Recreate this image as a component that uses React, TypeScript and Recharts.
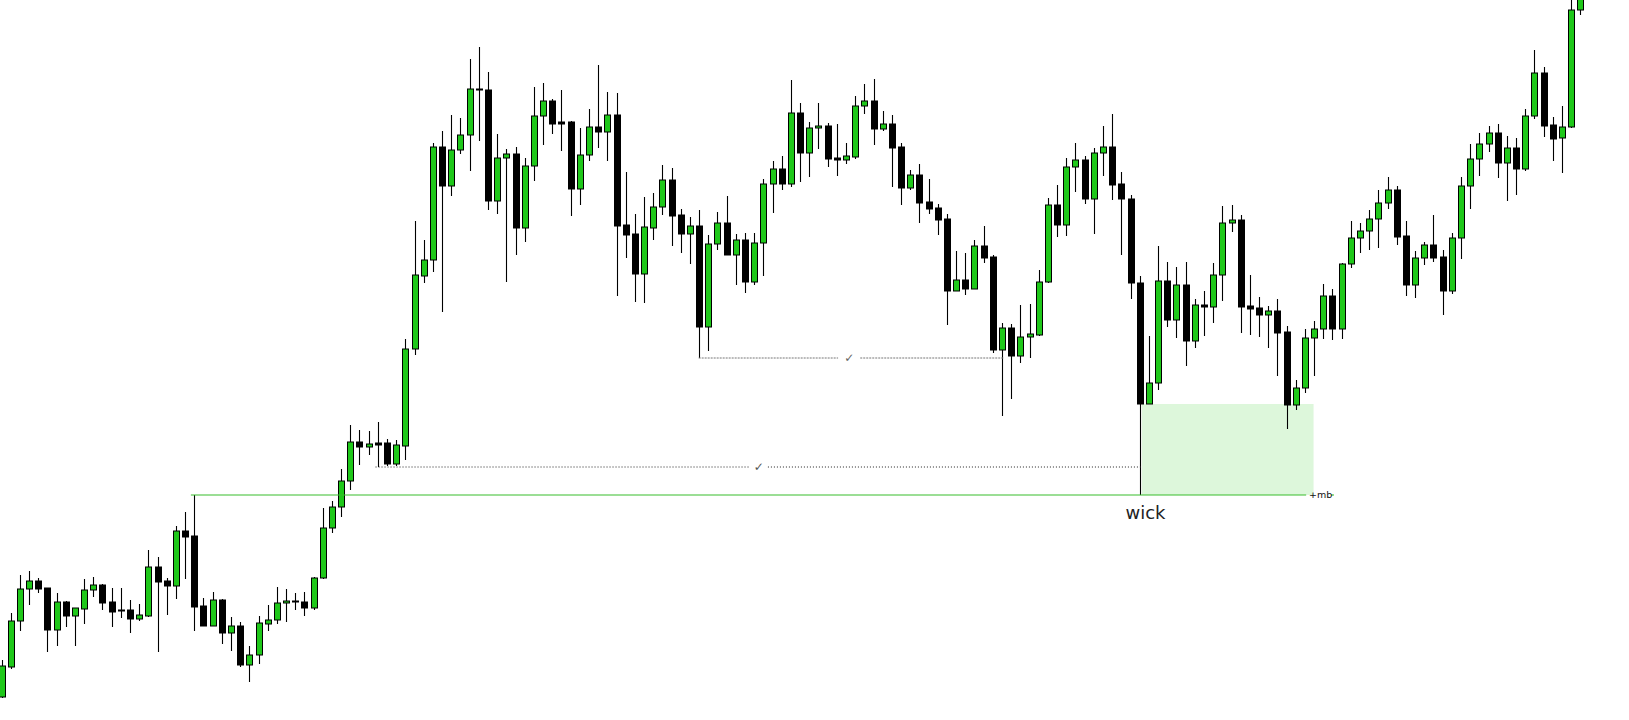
import {
  ComposedChart,
  Bar,
  XAxis,
  YAxis,
  ReferenceLine,
  ReferenceArea,
  ReferenceDot,
} from 'recharts';

// price levels (arbitrary units, higher = up)
const opens = [
  23, 53, 99, 131, 139, 132, 90, 118, 104, 111, 130, 135, 118, 110, 110, 101, 104, 153, 139, 134,
  189, 184, 114, 94, 120, 87, 94, 55, 65, 96, 100, 117, 119, 118, 112, 142, 192, 213, 239, 278,
  273, 277, 277, 256, 274, 371, 444, 460, 573, 534, 570, 585, 631, 630, 519, 562, 566, 492, 554, 604,
  619, 598, 598, 531, 565, 593, 588, 605, 495, 486, 446, 492, 513, 540, 505, 486, 494, 393, 476, 497,
  465, 480, 438, 477, 536, 551, 536, 607, 567, 592, 594, 562, 560, 563, 614, 619, 591, 596, 573, 532,
  545, 518, 512, 501, 429, 440, 431, 474, 463, 370, 392, 364, 383, 385, 438, 515, 495, 553, 560, 521,
  567, 573, 536, 521, 437, 316, 337, 439, 400, 435, 379, 415, 413, 445, 497, 500, 414, 412, 405, 409,
  388, 315, 332, 382, 391, 424, 391, 456, 482, 489, 501, 517, 530, 484, 435, 462, 475, 463, 429, 482,
  534, 561, 576, 587, 557, 572, 551, 604, 647, 595, 582, 593, 710,
];

const highs = [
  60, 107, 145, 149, 142, 132, 127, 119, 112, 141, 143, 136, 132, 132, 120, 116, 170, 163, 142, 194,
  208, 225, 122, 128, 121, 103, 98, 74, 104, 115, 133, 131, 127, 128, 143, 212, 219, 251, 295, 290,
  289, 298, 281, 280, 381, 499, 480, 577, 589, 605, 602, 661, 673, 648, 586, 571, 573, 562, 633, 637,
  621, 630, 599, 592, 611, 655, 628, 627, 548, 506, 523, 527, 555, 552, 511, 503, 510, 485, 508, 524,
  486, 487, 487, 541, 559, 564, 640, 617, 598, 617, 597, 596, 577, 624, 636, 641, 609, 605, 577, 550,
  556, 541, 516, 506, 469, 467, 480, 494, 465, 397, 396, 415, 416, 450, 522, 535, 562, 577, 564, 572,
  594, 606, 548, 525, 444, 384, 474, 458, 453, 458, 421, 429, 457, 514, 515, 505, 445, 423, 414, 421,
  394, 340, 391, 399, 436, 431, 457, 499, 497, 510, 530, 543, 534, 499, 469, 478, 505, 470, 487, 543,
  576, 587, 594, 596, 584, 582, 611, 670, 653, 603, 614, 725, 730,
];

const lows = [
  22, 51, 89, 115, 127, 68, 74, 93, 74, 96, 123, 110, 93, 102, 87, 99, 103, 68, 105, 121,
  141, 89, 94, 94, 76, 69, 53, 38, 56, 89, 96, 98, 110, 104, 110, 141, 187, 203, 230, 255,
  265, 253, 254, 254, 260, 365, 437, 448, 408, 524, 566, 549, 579, 510, 506, 438, 465, 478, 539, 575,
  586, 569, 504, 515, 559, 572, 559, 424, 462, 418, 417, 480, 505, 474, 467, 456, 362, 369, 470, 465,
  435, 427, 435, 444, 507, 530, 533, 538, 543, 571, 553, 544, 556, 561, 606, 575, 589, 533, 515, 530,
  497, 506, 485, 395, 429, 425, 431, 457, 367, 304, 321, 357, 362, 384, 437, 483, 484, 528, 516, 486,
  544, 520, 465, 421, 225, 316, 330, 393, 382, 354, 372, 384, 397, 419, 488, 387, 385, 383, 372, 344,
  291, 310, 327, 344, 381, 380, 381, 452, 467, 470, 472, 511, 475, 424, 422, 455, 458, 405, 426, 461,
  511, 544, 568, 542, 519, 525, 549, 601, 583, 559, 547, 592, 705,
];

const closes = [
  54, 99, 131, 139, 131, 90, 118, 104, 112, 130, 135, 117, 108, 109, 101, 105, 153, 138, 134, 189,
  183, 113, 94, 120, 87, 94, 55, 65, 97, 100, 117, 119, 118, 112, 142, 192, 213, 239, 278, 273,
  276, 275, 256, 275, 371, 445, 460, 573, 534, 570, 585, 631, 630, 519, 562, 566, 492, 554, 604, 619,
  596, 596, 531, 565, 593, 588, 605, 494, 485, 446, 493, 513, 540, 504, 486, 494, 393, 476, 497, 465,
  480, 438, 477, 536, 551, 536, 607, 567, 592, 594, 561, 560, 564, 614, 619, 591, 596, 572, 532, 545,
  517, 511, 500, 429, 440, 431, 474, 462, 370, 392, 364, 383, 386, 438, 515, 495, 553, 560, 521, 567,
  573, 535, 521, 437, 316, 337, 439, 400, 435, 379, 415, 413, 445, 497, 500, 413, 411, 405, 409, 387,
  315, 332, 382, 391, 424, 391, 456, 482, 489, 501, 517, 530, 483, 435, 462, 475, 462, 429, 482, 534,
  561, 576, 587, 557, 572, 551, 604, 647, 594, 581, 593, 710, 725,
];

// annotation anchors (candle indexes, 0-based)
const mbCandle = 21; // high that the green +mb line starts from
const wickCandle = 124; // candle whose wick sweeps the +mb line
const zoneEnd = 142.6;
const upperSweepFrom = 76;
const upperSweepTo = 109;
const lowerSweepFrom = 41;
const lowerSweepTo = 124;

const GREEN = '#1fc81a';
const W = 1588;
const H = 720;
const N = opens.length;

const data = opens.map((o, i) => ({
  i,
  open: o,
  high: highs[i],
  low: lows[i],
  close: closes[i],
  range: [lows[i], highs[i]],
}));

const Candle = (props: any) => {
  const { x, y, width, height, payload } = props;
  if (!payload) return null;
  const { open, close, high, low } = payload;
  const top = Math.min(y, y + height);
  const bottom = Math.max(y, y + height);
  const px = (v: number) => top + ((high - v) / (high - low)) * (bottom - top);
  const cx = Math.round(x + width / 2) + 0.5;
  const up = close > open;
  const bTop = px(Math.max(open, close));
  const bBot = px(Math.min(open, close));
  const bh = Math.max(bBot - bTop, 1);
  return (
    <g>
      <line x1={cx} x2={cx} y1={top} y2={bottom} stroke="#000" strokeWidth={1.1} />
      <rect
        x={cx - 3}
        y={bTop}
        width={6}
        height={bh}
        fill={up ? GREEN : '#000'}
        stroke="#000"
        strokeWidth={1}
      />
    </g>
  );
};

export default function App() {
  const mbLevel = highs[mbCandle];
  const upperLevel = lows[upperSweepFrom];
  const lowerLevel = lows[lowerSweepFrom];
  const upperMid = (upperSweepFrom + upperSweepTo) / 2;
  const lowerMid = (lowerSweepFrom + lowerSweepTo) / 2;

  return (
    <div
      style={{
        position: 'absolute',
        left: -2.92,
        top: 0,
        width: W,
        height: H,
        fontFamily: 'DejaVu Sans, sans-serif',
      }}
    >
      <ComposedChart
        width={W}
        height={H}
        data={data}
        margin={{ top: 0, right: 0, bottom: 0, left: 0 }}
        barCategoryGap={0}
        barGap={0}
      >
        <XAxis xAxisId="c" dataKey="i" type="category" hide />
        <XAxis xAxisId="n" type="number" domain={[-0.5, N - 0.5]} hide allowDataOverflow />
        <YAxis domain={[0, H]} hide allowDataOverflow />

        <ReferenceArea
          xAxisId="n"
          x1={wickCandle}
          x2={zoneEnd}
          y1={lows[wickCandle]}
          y2={closes[wickCandle]}
          fill="#ddf7db"
          fillOpacity={1}
          stroke="none"
        />

        <ReferenceLine
          xAxisId="n"
          segment={[
            { x: mbCandle, y: mbLevel },
            { x: zoneEnd - 0.8, y: mbLevel },
          ]}
          stroke="#38bd2c"
          strokeWidth={1.2}
        />
        <ReferenceLine
          xAxisId="n"
          segment={[
            { x: zoneEnd + 1.9, y: mbLevel },
            { x: zoneEnd + 2.2, y: mbLevel },
          ]}
          stroke="#38bd2c"
          strokeWidth={1.2}
        />
        <ReferenceDot
          xAxisId="n"
          x={zoneEnd - 0.6}
          y={mbLevel}
          r={0}
          fill="none"
          stroke="none"
          label={{ value: '+mb', position: 'right', offset: 1, fontSize: 9.5, fill: '#111' }}
        />
        <ReferenceDot
          xAxisId="n"
          x={wickCandle + 0.4}
          y={mbLevel}
          r={0}
          fill="none"
          stroke="none"
          label={{ value: 'wick', position: 'bottom', offset: 11, fontSize: 18, fill: '#222' }}
        />

        <ReferenceLine
          xAxisId="n"
          segment={[
            { x: upperSweepFrom, y: upperLevel },
            { x: upperMid - 1.4, y: upperLevel },
          ]}
          stroke="#777"
          strokeDasharray="2 1"
        />
        <ReferenceLine
          xAxisId="n"
          segment={[
            { x: upperMid + 1.0, y: upperLevel },
            { x: upperSweepTo, y: upperLevel },
          ]}
          stroke="#777"
          strokeDasharray="2 1"
        />
        <ReferenceDot
          xAxisId="n"
          x={upperMid - 0.2}
          y={upperLevel}
          r={0}
          fill="none"
          stroke="none"
          label={{ value: '✓', position: 'center', fontSize: 12, fill: '#666' }}
        />

        <ReferenceLine
          xAxisId="n"
          segment={[
            { x: lowerSweepFrom, y: lowerLevel },
            { x: lowerMid - 1.1, y: lowerLevel },
          ]}
          stroke="#222"
          strokeDasharray="1 2"
        />
        <ReferenceLine
          xAxisId="n"
          segment={[
            { x: lowerMid + 1.0, y: lowerLevel },
            { x: lowerSweepTo, y: lowerLevel },
          ]}
          stroke="#222"
          strokeDasharray="1 2"
        />
        <ReferenceDot
          xAxisId="n"
          x={lowerMid}
          y={lowerLevel}
          r={0}
          fill="none"
          stroke="none"
          label={{ value: '✓', position: 'center', fontSize: 12, fill: '#555' }}
        />

        <Bar xAxisId="c" dataKey="range" shape={Candle} isAnimationActive={false} />
      </ComposedChart>
    </div>
  );
}
